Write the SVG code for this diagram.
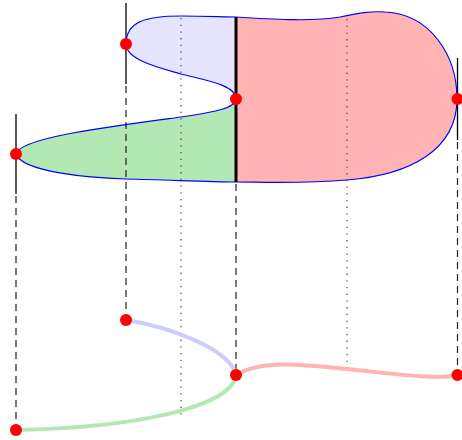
<svg xmlns="http://www.w3.org/2000/svg" width="462" height="440" viewBox="0 0 462 440">
<style>
.edge{fill:none;stroke:#0000ff;stroke-width:1.2}
.solid{stroke:#000;stroke-width:1.3;fill:none}
.dash{stroke:#222;stroke-width:1.2;stroke-dasharray:7,5;fill:none}
.dot{stroke:#555;stroke-width:1.3;stroke-dasharray:1.3,5.4;fill:none}
.pt{fill:#ff0000}
.proj{fill:none;stroke-width:4;stroke-linecap:round}
</style>
<rect width="462" height="440" fill="#fff"/>
<g id="regions">
<path id="blue-region" d="M236,17 C225,17 205,16 181,16 C145,16 126,22 126,44 C126,60 160,68 181,74 C205,80 236,85 236,99 Z" fill="#e5e5ff"/>
<path id="green-region" d="M236,99 C236,108 215,112 181,117 C100,128 20,138 16,154 C22,172 90,178 126,179 C170,180 210,182 236,182 Z" fill="#b3e8b3"/>
<path id="red-region" d="M236,17 C270,19 310,22 340,17 C360,13 370,11 385,12 C430,14 457,55 457,99 C457,150 410,175 347,180 C300,184 260,182 236,182 Z" fill="#ffb3b3"/>
</g>
<g id="connectors">
<line class="dot" x1="181" y1="18" x2="181" y2="415"/>
<line class="dot" x1="347" y1="19" x2="347" y2="368"/>
<line class="solid" x1="126" y1="3" x2="126" y2="84"/>
<line class="dash" x1="126" y1="86" x2="126" y2="320"/>
<line class="solid" x1="16" y1="114" x2="16" y2="194"/>
<line class="dash" x1="16" y1="196" x2="16" y2="430"/>
<line class="solid" x1="457.5" y1="58" x2="457.5" y2="140"/>
<line class="dash" x1="457.5" y1="142" x2="457.5" y2="375"/>
<line class="dash" x1="236" y1="184" x2="236" y2="375"/>
<path class="edge" d="M236,17 C225,17 205,16 181,16 C145,16 126,22 126,44 C126,60 160,68 181,74 C205,80 236,85 236,99 C236,108 215,112 181,117 C100,128 20,138 16,154 C22,172 90,178 126,179 C170,180 210,182 236,182"/>
<path class="edge" d="M236,17 C270,19 310,22 340,17 C360,13 370,11 385,12 C430,14 457,55 457,99 C457,150 410,175 347,180 C300,184 260,182 236,182"/>
<line x1="236" y1="17" x2="236" y2="182" stroke="#000" stroke-width="3"/>
<path class="proj" stroke="#ccccff" d="M126,320 C165,326 230,348 236,375"/>
<path class="proj" stroke="#b3e8b3" d="M16,430 C130,428 232,408 236,375"/>
<path class="proj" stroke="#ffb3b3" d="M236,375 C260,360 300,364 347,369 S440,380 457,375"/>
</g>
<g id="p1"><circle class="pt" cx="126" cy="44" r="6"/></g>
<g id="p2"><circle class="pt" cx="236" cy="99" r="6"/></g>
<g id="p3"><circle class="pt" cx="457.5" cy="99" r="6"/></g>
<g id="p4"><circle class="pt" cx="16" cy="154" r="6"/></g>
<g id="q1"><circle class="pt" cx="126" cy="320" r="6"/></g>
<g id="q2"><circle class="pt" cx="236" cy="375" r="6"/></g>
<g id="q3"><circle class="pt" cx="457.5" cy="375" r="6"/></g>
<g id="q4"><circle class="pt" cx="16" cy="430" r="6"/></g>
</svg>
